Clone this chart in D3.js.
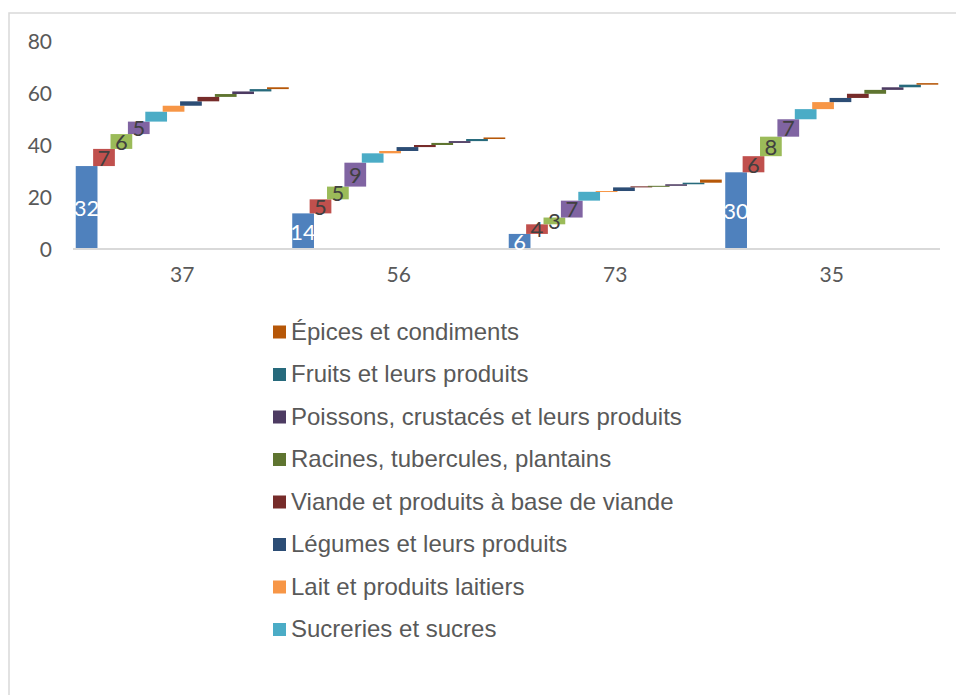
<!DOCTYPE html>
<html>
<head>
<meta charset="utf-8">
<script src="https://cdn.jsdelivr.net/npm/d3@7/dist/d3.min.js"></script>
<style>
  html, body { margin: 0; padding: 0; background: #fff; }
  svg { display: block; }
</style>
</head>
<body>
<svg id="chart" width="956" height="695"></svg>
<script>
// Groups along the x axis
const categories = ["37", "56", "73", "35"];

// One array per series, one value per group (series drawn left to right in each group)
const s1  = [31.9, 13.7, 5.8, 29.5];
const s2  = [6.6, 5.4, 3.7, 6.2];
const s3  = [5.7, 4.9, 2.6, 7.5];
const s4  = [4.8, 9.2, 6.5, 6.7];
const sucreries = [3.8, 3.6, 3.4, 3.9];
const lait      = [2.3, 0.9, 0.3, 2.7];
const legumes   = [1.7, 1.5, 1.4, 1.6];
const viande    = [1.7, 0.8, 0.4, 1.6];
const racines   = [1.1, 0.8, 0.2, 1.5];
const poissons  = [1.0, 0.7, 0.6, 1.0];
const fruits    = [0.9, 0.8, 0.6, 1.0];
const epices    = [0.7, 0.6, 1.2, 0.6];

const seriesValues = [s1, s2, s3, s4, sucreries, lait, legumes, viande, racines, poissons, fruits, epices];
const seriesColors = ["#4F81BD", "#C0504D", "#9BBB59", "#8064A2", "#4BACC6", "#F79646",
                      "#2C4D75", "#772C2A", "#5F7530", "#4D3B62", "#276A7C", "#B65708"];
// Series whose values are written on the bars
const labelledSeries = [0, 1, 2, 3];

// Legend entries: series index and name, listed top to bottom
const legendIndex = [11, 10, 9, 8, 7, 6, 5, 4];
const legendNames = [
  "Épices et condiments",
  "Fruits et leurs produits",
  "Poissons, crustacés et leurs produits",
  "Racines, tubercules, plantains",
  "Viande et produits à base de viande",
  "Légumes et leurs produits",
  "Lait et produits laitiers",
  "Sucreries et sucres"
];

const yTicks = [0, 20, 40, 60, 80];

const svg = d3.select("#chart");

// Outer chart frame
svg.append("rect")
  .attr("x", 9).attr("y", 13)
  .attr("width", 1000).attr("height", 800)
  .attr("fill", "none")
  .attr("stroke", "#d9d9d9")
  .attr("stroke-width", 1.5);

const plot = { left: 74, right: 940, top: 41, bottom: 249 };

const x = d3.scaleBand().domain(categories).range([plot.left, plot.right]).padding(0);
const y = d3.scaleLinear().domain([0, 80]).range([plot.bottom, plot.top]);

// Bars inside a group overlap slightly, with a small gap between groups
const overlap = 0.2, gapRatio = 0.16;
const nSeries = seriesValues.length;
const barW = x.bandwidth() / (1 + (nSeries - 1) * (1 - overlap) + gapRatio);
const step = barW * (1 - overlap);
const groupPad = (x.bandwidth() - (barW + (nSeries - 1) * step)) / 2;

// Floating segments: each series starts where the previous one ended
const segments = [];
categories.forEach((cat, ci) => {
  let base = 0;
  seriesValues.forEach((vals, si) => {
    const v = vals[ci];
    segments.push({ cat, si, v, y0: base, y1: base + v });
    base += v;
  });
});

// Y axis labels
const yAxis = d3.axisLeft(y).tickValues(yTicks).tickSize(0).tickPadding(0);
const gy = svg.append("g").attr("transform", "translate(52,0)").call(yAxis);
gy.select(".domain").remove();
gy.selectAll("text")
  .attr("fill", "#595959")
  .style("font-family", "Lato, 'Open Sans', sans-serif")
  .style("font-size", "21px")
  .attr("dy", "0.35em");

// Bars
svg.append("g").selectAll("rect")
  .data(segments)
  .join("rect")
  .attr("x", d => x(d.cat) + groupPad + d.si * step)
  .attr("width", barW)
  .attr("y", d => y(d.y1))
  .attr("height", d => Math.max(1, y(d.y0) - y(d.y1)))
  .attr("fill", d => seriesColors[d.si]);

// X axis baseline and category labels
const xAxis = d3.axisBottom(x).tickSize(0).tickPadding(18);
const gx = svg.append("g").attr("transform", `translate(0,${plot.bottom})`).call(xAxis);
gx.select(".domain")
  .attr("stroke", "#d9d9d9")
  .attr("stroke-width", 2)
  .attr("d", `M${plot.left - 1},0H${plot.right}`);
gx.selectAll("text")
  .attr("fill", "#595959")
  .style("font-family", "Lato, 'Open Sans', sans-serif")
  .style("font-size", "21px");

// Value labels on the first series
const fmt = d3.format(".0f");
svg.append("g").selectAll("text")
  .data(segments.filter(d => labelledSeries.includes(d.si)))
  .join("text")
  .attr("x", d => x(d.cat) + groupPad + d.si * step + barW / 2)
  .attr("y", d => (y(d.y0) + y(d.y1)) / 2)
  .attr("dy", "0.38em")
  .attr("text-anchor", "middle")
  .attr("fill", d => d.si === 0 ? "#ffffff" : "#404040")
  .style("font-family", "Lato, 'Open Sans', sans-serif")
  .style("font-size", "22px")
  .text(d => fmt(d.v));

// Legend
const legend = svg.append("g").attr("transform", "translate(273,332)");
const rowH = 42.5;
const items = legend.selectAll("g")
  .data(legendIndex.map((si, i) => ({ si, name: legendNames[i] })))
  .join("g")
  .attr("transform", (d, i) => `translate(0,${i * rowH})`);
items.append("rect")
  .attr("x", 0).attr("y", -6.5)
  .attr("width", 13).attr("height", 13)
  .attr("fill", d => seriesColors[d.si]);
items.append("text")
  .attr("x", 18)
  .attr("y", 0)
  .attr("dy", "0.33em")
  .attr("fill", "#595959")
  .style("font-family", "'Liberation Sans', Arial, sans-serif")
  .style("font-size", "24px")
  .text(d => d.name);
</script>
</body>
</html>
